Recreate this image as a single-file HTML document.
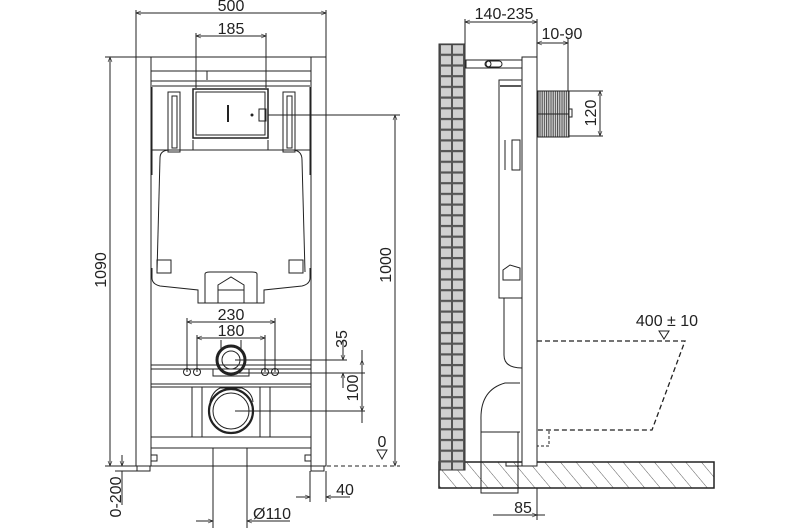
<!DOCTYPE html>
<html><head><meta charset="utf-8"><style>
html,body{margin:0;padding:0;background:#fff;}
svg{display:block;font-family:"Liberation Sans",sans-serif;}
</style></head><body>
<svg width="810" height="528" viewBox="0 0 810 528" xmlns="http://www.w3.org/2000/svg">
<defs>
<pattern id="brick" x="439" y="44" width="26" height="10.7" patternUnits="userSpaceOnUse">
<rect width="26" height="10.7" fill="#555"/>
<rect x="2" y="1.2" width="10" height="8.5" fill="#d0d0d0"/>
<rect x="14" y="1.2" width="10" height="8.5" fill="#d0d0d0"/>
</pattern>
<pattern id="hatch" width="12" height="12" patternUnits="userSpaceOnUse" patternTransform="rotate(-40)">
<line x1="0" y1="0" x2="0" y2="12" stroke="#333" stroke-width="0.8"/>
</pattern>
<pattern id="stripe" width="2.2" height="10" patternUnits="userSpaceOnUse">
<rect width="2.2" height="10" fill="#ddd"/><line x1="1" y1="0" x2="1" y2="10" stroke="#444" stroke-width="1"/>
</pattern>
<marker id="a" viewBox="0 0 10 10" refX="10" refY="5" markerWidth="7" markerHeight="5" orient="auto-start-reverse" markerUnits="userSpaceOnUse">
<path d="M0 1 L10 5 L0 9" fill="none" stroke="#222" stroke-width="1.2"/>
</marker>
</defs>
<g fill="none" stroke="#222" stroke-width="1">
<!-- ===== FRONT VIEW ===== -->
<line x1="136" y1="10" x2="136" y2="57"/><line x1="326" y1="10" x2="326" y2="57"/>
<line x1="136" y1="13" x2="326" y2="13" marker-start="url(#a)" marker-end="url(#a)"/>
<line x1="196" y1="33" x2="196" y2="88"/><line x1="266" y1="33" x2="266" y2="88"/>
<line x1="196" y1="36" x2="266" y2="36" marker-start="url(#a)" marker-end="url(#a)"/>
<!-- frame -->
<rect x="136" y="57" width="190" height="409"/>
<line x1="151" y1="57" x2="151" y2="466"/><line x1="311" y1="57" x2="311" y2="466"/>
<line x1="151" y1="71" x2="311" y2="71"/>
<line x1="207" y1="71" x2="207" y2="80"/>
<line x1="151" y1="81" x2="311" y2="81"/><line x1="152" y1="86" x2="310" y2="86"/>
<rect x="137" y="466" width="13" height="5"/><rect x="311" y="466" width="13" height="5"/>
<!-- side brackets -->
<rect x="168" y="92" width="12" height="60"/><rect x="172" y="96" width="5" height="52"/>
<rect x="283" y="92" width="12" height="60"/><rect x="287" y="96" width="5" height="52"/>
<path d="M152 87 V150 H193 V140 M310 87 V150 H268 V140"/>
<!-- flush box -->
<rect x="193" y="89" width="75" height="49" stroke-width="1.5"/>
<rect x="196" y="92" width="69" height="43"/>
<line x1="228" y1="105" x2="228" y2="122" stroke-width="2"/>
<circle cx="252" cy="115" r="1" fill="#222"/>
<rect x="259" y="109" width="7" height="12"/>
<line x1="268" y1="115" x2="400" y2="115"/>
<!-- tank body -->
<path d="M152 148 V175 M310 148 V175"/>
<path d="M160 158 Q160 150 170 150 H292 Q302 150 302 160 L305 272"/>
<path d="M160 158 L157 272"/>
<path d="M152 268 V278 Q152 284 160 286 L198 290 V303 H264 V290 L302 286 Q310 284 310 278 V268"/>
<rect x="157" y="260" width="14" height="13"/><rect x="289" y="260" width="14" height="13"/>
<path d="M205 303 V274 Q205 272 210 272 H252 Q257 272 257 274 V303"/>
<path d="M218 285 L231 277 L244 285 V303 H218 Z"/>
<line x1="218" y1="290" x2="244" y2="290"/>
<!-- 230 / 180 -->
<line x1="187" y1="318" x2="187" y2="372"/><line x1="275" y1="318" x2="275" y2="372"/>
<line x1="187" y1="322" x2="275" y2="322" marker-start="url(#a)" marker-end="url(#a)"/>
<line x1="197" y1="335" x2="197" y2="372"/><line x1="265" y1="335" x2="265" y2="372"/>
<line x1="197" y1="338" x2="265" y2="338" marker-start="url(#a)" marker-end="url(#a)"/>
<line x1="221" y1="340" x2="221" y2="350"/><line x1="241" y1="340" x2="241" y2="350"/>
<!-- mid bar -->
<line x1="151" y1="365" x2="311" y2="365"/><line x1="151" y1="369" x2="311" y2="369"/>
<line x1="151" y1="384" x2="311" y2="384"/><line x1="151" y1="387" x2="311" y2="387"/>
<path d="M213 369 V376 H249 V369"/>
<circle cx="187" cy="372" r="3.5"/><circle cx="197" cy="372" r="3.5"/>
<circle cx="265" cy="372" r="3.5"/><circle cx="275" cy="372" r="3.5"/>
<circle cx="231" cy="360" r="14" stroke-width="3"/><circle cx="231" cy="360" r="9"/>
<line x1="235" y1="360" x2="347" y2="360"/>
<line x1="232" y1="373" x2="365" y2="373"/>
<line x1="192" y1="387" x2="192" y2="437"/><line x1="202" y1="387" x2="202" y2="437"/>
<line x1="260" y1="387" x2="260" y2="437"/><line x1="270" y1="387" x2="270" y2="437"/>
<circle cx="231" cy="411" r="22" stroke-width="2.2"/><circle cx="231" cy="411" r="18"/>
<path d="M210 402 Q212 392 220 388 H242 Q252 392 253 402"/>
<line x1="235" y1="411" x2="365" y2="411"/>
<line x1="151" y1="437" x2="311" y2="437"/><line x1="151" y1="448" x2="311" y2="448"/>
<rect x="151" y="455" width="6" height="6"/><rect x="305" y="455" width="6" height="6"/>
<line x1="213" y1="448" x2="213" y2="528"/><line x1="247" y1="448" x2="247" y2="528"/>
<line x1="152" y1="466" x2="400" y2="466" stroke-dasharray="4,3"/>
<!-- 1000 -->
<line x1="395" y1="115" x2="395" y2="466" marker-start="url(#a)" marker-end="url(#a)"/>
<!-- 1090 -->
<line x1="105" y1="57" x2="136" y2="57"/>
<line x1="110" y1="57" x2="110" y2="466" marker-start="url(#a)" marker-end="url(#a)"/>
<line x1="105" y1="466" x2="136" y2="466"/>
<!-- 0-200 -->
<line x1="122" y1="455" x2="122" y2="466" marker-end="url(#a)"/>
<line x1="122" y1="471" x2="122" y2="505"/>
<line x1="115" y1="471" x2="137" y2="471"/>
<!-- 35 / 100 -->
<line x1="343" y1="340" x2="343" y2="360" marker-end="url(#a)"/>
<line x1="343" y1="373" x2="343" y2="388" marker-start="url(#a)"/>
<line x1="362" y1="360" x2="362" y2="411" marker-start="url(#a)" marker-end="url(#a)"/>
<line x1="362" y1="350" x2="362" y2="423"/>
<path d="M377 450 H387 L382 459 Z"/>
<!-- 40 -->
<line x1="310" y1="471" x2="310" y2="502"/><line x1="326" y1="471" x2="326" y2="502"/>
<line x1="296" y1="497" x2="310" y2="497" marker-end="url(#a)"/>
<line x1="326" y1="497" x2="350" y2="497" marker-start="url(#a)"/>
<!-- 110 -->
<line x1="196" y1="521" x2="213" y2="521" marker-end="url(#a)"/>
<line x1="247" y1="521" x2="290" y2="521" marker-start="url(#a)"/>

<!-- ===== SIDE VIEW ===== -->
<rect x="439" y="462" width="275" height="26" fill="url(#hatch)" stroke-width="1.5"/>
<rect x="439" y="44" width="26" height="426" fill="url(#brick)" stroke="#333"/>
<line x1="465" y1="19" x2="465" y2="44"/><line x1="537" y1="19" x2="537" y2="57"/>
<line x1="465" y1="22" x2="537" y2="22" marker-start="url(#a)" marker-end="url(#a)"/>
<line x1="537" y1="43" x2="568" y2="43" marker-start="url(#a)" marker-end="url(#a)"/>
<line x1="568" y1="38" x2="568" y2="91"/>
<rect x="522" y="57" width="15" height="409" fill="#fff"/>
<rect x="466" y="60" width="56" height="8"/>
<rect x="486" y="61" width="16" height="6" rx="3"/><circle cx="488" cy="64" r="3"/>
<rect x="499" y="80" width="23" height="218"/>
<line x1="500" y1="86" x2="521" y2="86" stroke-width="1.5"/>
<path d="M505 140 V170 M512 140 h8 v30 h-8 z"/>
<path d="M503 270 L510 265 L520 268 V280 H503 Z"/>
<path d="M504 298 V355 Q504 368 522 368"/>
<path d="M520 383 H505 Q480 390 481 420 V493 H518 V432"/>
<line x1="481" y1="432" x2="520" y2="432"/>
<rect x="506" y="462" width="16" height="4"/>
<rect x="538" y="91" width="31" height="46" fill="url(#stripe)"/>
<line x1="538" y1="114" x2="569" y2="114"/>
<rect x="569" y="109" width="3" height="8"/>
<line x1="569" y1="91" x2="603" y2="91"/><line x1="569" y1="136" x2="603" y2="136"/>
<line x1="600" y1="91" x2="600" y2="136" marker-start="url(#a)" marker-end="url(#a)"/>
<path d="M537 341 H685 L652 430 H537" stroke-dasharray="5,3" stroke-width="1.3"/>
<path d="M537 430 V446 H549 V431" stroke-dasharray="3,2"/>
<path d="M659 331 H669 L664 339 Z"/>
<line x1="493" y1="515" x2="537" y2="515" marker-end="url(#a)"/>
<line x1="537" y1="515" x2="545" y2="515"/>
<line x1="537" y1="488" x2="537" y2="520"/>
</g>
<g fill="#222" font-size="16">
<text x="231" y="11" text-anchor="middle">500</text>
<text x="231" y="34" text-anchor="middle">185</text>
<text x="231" y="320" text-anchor="middle">230</text>
<text x="231" y="336" text-anchor="middle">180</text>
<text x="272" y="519" text-anchor="middle">Ø110</text>
<text x="345" y="495" text-anchor="middle">40</text>
<text x="382" y="447" text-anchor="middle">0</text>
<text transform="translate(106,270) rotate(-90)" text-anchor="middle">1090</text>
<text transform="translate(391,265) rotate(-90)" text-anchor="middle">1000</text>
<text transform="translate(121,497) rotate(-90)" text-anchor="middle">0-200</text>
<text transform="translate(347,339) rotate(-90)" text-anchor="middle">35</text>
<text transform="translate(358,388) rotate(-90)" text-anchor="middle">100</text>
<text x="504" y="19" text-anchor="middle">140-235</text>
<text x="562" y="39" text-anchor="middle">10-90</text>
<text transform="translate(596,113) rotate(-90)" text-anchor="middle">120</text>
<text x="667" y="326" text-anchor="middle">400 ± 10</text>
<text x="523" y="513" text-anchor="middle">85</text>
</g>
</svg>
</body></html>
